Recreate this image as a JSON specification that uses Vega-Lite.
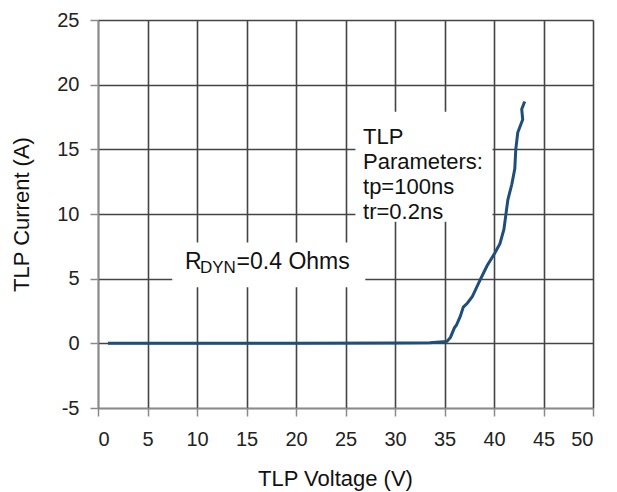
{
  "$schema": "https://vega.github.io/schema/vega-lite/v6.json",
  "width": 495,
  "height": 388,
  "autosize": "none",
  "padding": {"left": 98, "top": 20, "right": 24, "bottom": 84},
  "background": "white",
  "config": {
    "view": {"stroke": null},
    "font": "Liberation Sans",
    "axis": {
      "labelFont": "Liberation Sans",
      "titleFont": "Liberation Sans",
      "labelFontSize": 20,
      "titleFontSize": 22,
      "labelColor": "#222",
      "titleColor": "#111",
      "titleFontWeight": "normal",
      "gridColor": "#444444",
      "gridWidth": 1.6,
      "gridOpacity": 1,
      "domainColor": "#8a8a8a",
      "domainWidth": 1.5,
      "tickColor": "#8a8a8a",
      "tickWidth": 1.5,
      "tickSize": 8,
      "labelExpr": "'' + datum.value"
    }
  },
  "datasets": {
    "curve": [
      {"v": 1.0, "i": 0.0},
      {"v": 10.0, "i": 0.0},
      {"v": 20.0, "i": 0.0},
      {"v": 30.0, "i": 0.02},
      {"v": 33.5, "i": 0.05},
      {"v": 35.25, "i": 0.15},
      {"v": 35.6, "i": 0.46},
      {"v": 36.0, "i": 1.2},
      {"v": 36.2, "i": 1.4},
      {"v": 36.6, "i": 2.1},
      {"v": 36.9, "i": 2.8},
      {"v": 37.3, "i": 3.1},
      {"v": 37.8, "i": 3.6},
      {"v": 38.6, "i": 4.9},
      {"v": 39.3, "i": 6.0},
      {"v": 40.1, "i": 7.0},
      {"v": 40.6, "i": 7.7},
      {"v": 41.0, "i": 8.8},
      {"v": 41.2, "i": 9.95},
      {"v": 41.4, "i": 11.1},
      {"v": 41.8, "i": 12.3},
      {"v": 42.1, "i": 13.5},
      {"v": 42.2, "i": 15.0},
      {"v": 42.4, "i": 16.3},
      {"v": 42.9, "i": 17.3},
      {"v": 42.8, "i": 18.1},
      {"v": 43.1, "i": 18.7}
    ],
    "boxes": [
      {"x1": 7.5, "x2": 27.0, "y1": 4.33, "y2": 7.8},
      {"x1": 26.0, "x2": 39.85, "y1": 9.4, "y2": 17.9}
    ],
    "params": [
      {"x": 26.77, "y": 15.39, "label": "TLP\nParameters:\ntp=100ns\ntr=0.2ns"}
    ],
    "rdyn": [
      {"x": 8.8, "y": 5.72, "label": "R", "part": "main"},
      {"x": 10.3, "y": 5.45, "label": "DYN", "part": "sub"},
      {"x": 14.0, "y": 5.72, "label": "=0.4  Ohms", "part": "main"}
    ]
  },
  "layer": [
    {
      "data": {"name": "boxes"},
      "mark": {"type": "rect", "fill": "white", "stroke": null},
      "encoding": {
        "x": {"field": "x1", "type": "quantitative", "scale": {"domain": [0, 50], "nice": false, "zero": false},
          "axis": {"values": [0,5,10,15,20,25,30,35,40,45,50], "title": "TLP Voltage (V)", "labelPadding": 13, "titlePadding": 19, "titleX": 237, "grid": true}},
        "x2": {"field": "x2"},
        "y": {"field": "y1", "type": "quantitative", "scale": {"domain": [-5, 25], "nice": false, "zero": false},
          "axis": {"values": [-5,0,5,10,15,20,25], "title": "TLP Current (A)", "labelPadding": 11, "titlePadding": 23, "grid": true}},
        "y2": {"field": "y2"}
      }
    },
    {
      "data": {"name": "curve"},
      "mark": {"type": "line", "color": "#1f4e79", "strokeWidth": 3, "interpolate": "linear"},
      "encoding": {
        "x": {"field": "v", "type": "quantitative"},
        "y": {"field": "i", "type": "quantitative"},
        "order": {"field": "i", "type": "quantitative"}
      }
    },
    {
      "data": {"name": "params"},
      "mark": {"type": "text", "align": "left", "baseline": "alphabetic", "fontSize": 22, "lineHeight": 25, "lineBreak": "\n", "color": "#111", "font": "Liberation Sans"},
      "encoding": {
        "x": {"field": "x", "type": "quantitative"},
        "y": {"field": "y", "type": "quantitative"},
        "text": {"field": "label"}
      }
    },
    {
      "data": {"name": "rdyn"},
      "mark": {"type": "text", "align": "left", "baseline": "alphabetic", "color": "#111", "font": "Liberation Sans"},
      "encoding": {
        "x": {"field": "x", "type": "quantitative"},
        "y": {"field": "y", "type": "quantitative"},
        "text": {"field": "label"},
        "size": {"field": "part", "type": "nominal", "scale": {"domain": ["main", "sub"], "range": [23, 17]}, "legend": null}
      }
    }
  ]
}
